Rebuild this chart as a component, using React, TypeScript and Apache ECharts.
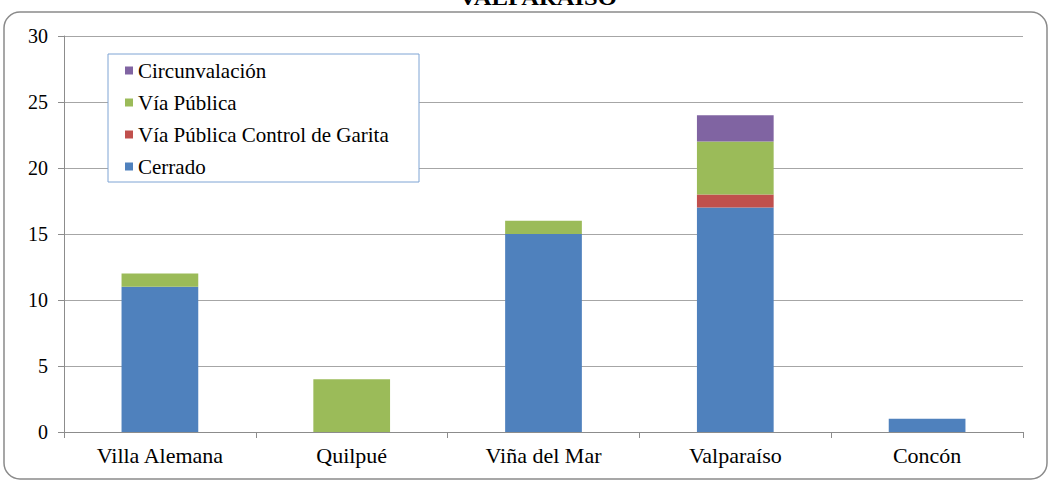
import React, { useEffect, useRef } from "react";
import * as echarts from "echarts";

const categories = ["Villa Alemana", "Quilpué", "Viña del Mar", "Valparaíso", "Concón"];
const cerrado = [11, 0, 15, 17, 1];
const garita = [0, 0, 0, 1, 0];
const viaPublica = [1, 4, 1, 4, 0];
const circunvalacion = [0, 0, 0, 2, 0];
const legendOrder = ["Circunvalación", "Vía Pública", "Vía Pública Control de Garita", "Cerrado"];

export default function App() {
  const ref = useRef<HTMLDivElement>(null);
  useEffect(() => {
    document.body.style.margin = "0";
    const chart = echarts.init(ref.current!, null, { renderer: "svg" });
    const font = "Liberation Serif";
    const mk = (name: string, data: number[], color: string) => ({
      name,
      type: "bar",
      stack: "total",
      data: data.map((v) => (v === 0 ? null : v)),
      barWidth: "40%",
      itemStyle: { color },
    });
    chart.setOption({
      animation: false,
      backgroundColor: "#fff",
      textStyle: { fontFamily: font },
      graphic: [
        {
          type: "rect",
          shape: { x: 4, y: 12, width: 1043, height: 467, r: 16 },
          style: { fill: "none", stroke: "#8a8a8a", lineWidth: 1.5 },
          z: 0,
        },
        {
          type: "rect",
          shape: { x: 108, y: 54, width: 311, height: 128 },
          style: { fill: "#fff", stroke: "#7fa4d4", lineWidth: 1 },
          z: 5,
        },
        {
          type: "text",
          x: 538,
          y: -14,
          scaleX: 1.12,
          style: {
            text: "VALPARAÍSO",
            fontFamily: font,
            fontWeight: "bold",
            fontSize: 22,
            fill: "#000",
            textAlign: "center",
            textVerticalAlign: "top",
          },
        },
      ],
      grid: { left: 64, right: 27, top: 36, bottom: 51, containLabel: false },
      legend: {
        orient: "vertical",
        left: 121,
        top: 56,
        data: legendOrder,
        icon: "rect",
        itemWidth: 8,
        itemHeight: 8,
        itemGap: 11,
        padding: [4, 4, 4, 4],
        z: 10,
        textStyle: { fontFamily: font, fontSize: 21, color: "#000" },
      },
      xAxis: {
        type: "category",
        data: categories,
        axisLine: { lineStyle: { color: "#8c8c8c" } },
        axisTick: { show: true, length: 6, lineStyle: { color: "#8c8c8c" } },
        axisLabel: { fontFamily: font, fontSize: 22, color: "#000", margin: 12 },
      },
      yAxis: {
        type: "value",
        min: 0,
        max: 30,
        interval: 5,
        axisLine: { show: true, lineStyle: { color: "#8c8c8c" } },
        axisTick: { show: true, length: 6, lineStyle: { color: "#8c8c8c" } },
        axisLabel: { fontFamily: font, fontSize: 20, color: "#000", margin: 16 },
        splitLine: { lineStyle: { color: "#a6a6a6" } },
      },
      series: [
        mk("Cerrado", cerrado, "#4f81bd"),
        mk("Vía Pública Control de Garita", garita, "#c0504d"),
        mk("Vía Pública", viaPublica, "#9bbb59"),
        mk("Circunvalación", circunvalacion, "#8064a2"),
      ],
    });
    return () => chart.dispose();
  }, []);
  return <div ref={ref} style={{ width: 1050, height: 483 }} />;
}
